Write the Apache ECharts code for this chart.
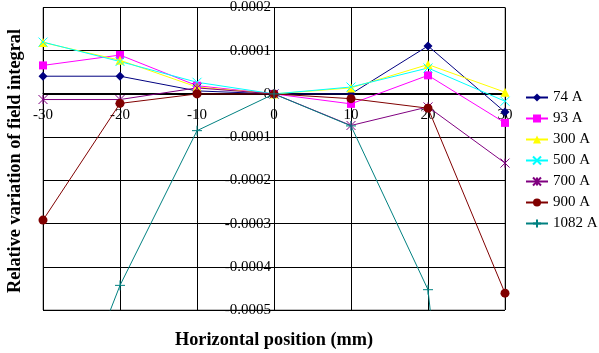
<!DOCTYPE html>
<html>
<head>
<meta charset="utf-8">
<script src="https://cdn.jsdelivr.net/npm/echarts@6/dist/echarts.min.js"></script>
<style>
  body { margin: 0; background: #fff; }
  #chart { width: 599px; height: 353px; }
</style>
</head>
<body>
<div id="chart"></div>
<script>
var positions = [-30, -20, -10, 0, 10, 20, 30];
var seriesNames = ['74 A', '93 A', '300 A', '500 A', '700 A', '900 A', '1082 A'];
var s74 = [0.000041, 0.000041, 0.000007, 0, 0, 0.000111, -0.000042];
var s93 = [0.000066, 0.00009, 0.000019, 0, -0.000023, 0.000043, -0.000067];
var s300 = [0.000119, 0.000078, 0.000016, 0, 0.000014, 0.000068, 0.000004];
var s500 = [0.00012, 0.000075, 0.000027, 0, 0.000016, 0.00006, -0.000017];
var s700 = [-0.000013, -0.000013, 0.000014, 0, -0.000073, -0.00003, -0.00016];
var s900 = [-0.000292, -0.000022, 0, 0, -0.000011, -0.000033, -0.000461];
var s1082 = [-0.0009, -0.000443, -0.000085, 0, -0.000074, -0.000453, -0.0021];

var colors = ['#000080', '#FF00FF', '#FFFF00', '#00FFFF', '#800080', '#800000', '#008080'];
var symbols = [
  'diamond', 'rect', 'triangle',
  'path://M0,0L10,10M10,0L0,10',
  'path://M0,0L10,10M10,0L0,10M5,0L5,10',
  'circle',
  'path://M5,0L5,10M0,5L10,5'
];
var sizes = [9, 8, 9, 9, 9, 9, 10];
var allData = [s74, s93, s300, s500, s700, s900, s1082];

var font = 'Liberation Serif';

// plot box in pixels, used to put the axes through zero
var gridLeft = 43, gridRight = 94, gridTop = 7, gridBottom = 43;
var plotW = 599 - gridLeft - gridRight;
var plotH = 353 - gridTop - gridBottom;

function makeSeries(i) {
  var stroke = symbols[i].indexOf('path://') === 0;
  return {
    name: seriesNames[i],
    type: 'line',
    data: positions.map(function (x, k) { return [x, allData[i][k]]; }),
    symbol: symbols[i],
    symbolSize: sizes[i],
    showAllSymbol: true,
    clip: true,
    lineStyle: { color: colors[i], width: 1 },
    itemStyle: stroke
      ? { color: colors[i], borderColor: colors[i], borderWidth: 1 }
      : { color: colors[i], borderWidth: 0 },
    emphasis: { disabled: true },
    animation: false
  };
}

var chart = echarts.init(document.getElementById('chart'));
chart.setOption({
  animation: false,
  grid: {
    left: gridLeft, right: gridRight, top: gridTop, bottom: gridBottom,
    show: true, borderColor: '#808080', borderWidth: 1
  },
  legend: {
    orient: 'vertical',
    left: 525, top: 90, padding: 0,
    itemWidth: 22, itemHeight: 10, itemGap: 6,
    textStyle: { fontFamily: font, fontSize: 15, color: '#000', lineHeight: 15 },
    data: seriesNames
  },
  xAxis: {
    type: 'value',
    min: -30, max: 30, interval: 10,
    position: 'bottom',
    offset: -plotH * 5 / 7,
    axisLine: { onZero: false, lineStyle: { color: '#000', width: 1 } },
    axisTick: { show: true, length: 3, lineStyle: { color: '#000' } },
    axisLabel: {
      fontFamily: font, fontSize: 15, color: '#000', margin: 14,
      showMinLabel: true, showMaxLabel: true
    },
    splitLine: { show: true, lineStyle: { color: '#000', width: 1 } }
  },
  yAxis: {
    type: 'value',
    min: -0.0005, max: 0.0002, interval: 0.0001,
    position: 'left',
    offset: -plotW / 2,
    axisLine: { onZero: false, lineStyle: { color: '#000', width: 1 } },
    axisTick: { show: true, length: 4, lineStyle: { color: '#000' } },
    axisLabel: {
      fontFamily: font, fontSize: 15, color: '#000', margin: 3,
      showMinLabel: true, showMaxLabel: true,
      formatter: function (v) {
        return Math.abs(v) < 1e-12 ? '0' : v.toFixed(4);
      }
    },
    splitLine: { show: true, lineStyle: { color: '#000', width: 1 } }
  },
  graphic: [
    {
      type: 'text', x: 274, y: 340,
      style: {
        text: 'Horizontal position (mm)',
        font: 'bold 18.3px "Liberation Serif"', fill: '#000',
        align: 'center', verticalAlign: 'middle'
      }
    },
    {
      type: 'text',
      x: 15, y: 161,
      rotation: Math.PI / 2,
      style: {
        text: 'Relative variation of field integral',
        font: 'bold 18.3px "Liberation Serif"', fill: '#000',
        align: 'center', verticalAlign: 'middle'
      }
    }
  ],
  series: allData.map(function (d, i) { return makeSeries(i); })
});
</script>
</body>
</html>
